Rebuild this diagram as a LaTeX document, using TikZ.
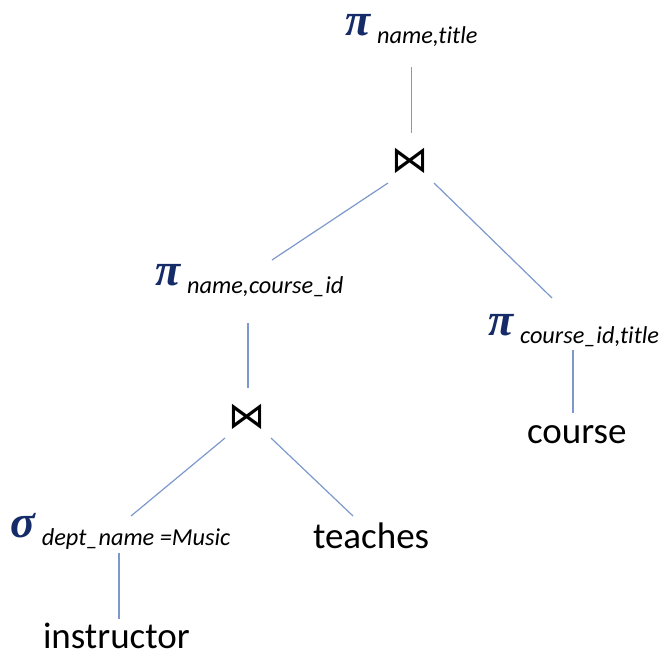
\documentclass[tikz,border=0pt]{standalone}
\usepackage{fontspec}
\setmainfont{Carlito}[Ligatures=NoCommon]
\newfontfamily\greekfont{Liberation Serif}
\newfontfamily\symfont{DejaVu Sans}
\usetikzlibrary{calc}
\definecolor{opblue}{RGB}{22,44,104}
\definecolor{edgeblue}{RGB}{124,152,204}
% relational operator: large Greek letter followed by a lowered italic subscript
\newcommand{\relop}[2]{{\color{opblue}\greekfont\bfseries\itshape\fontsize{46}{46}\selectfont #1}\hspace{7pt}\raisebox{-8pt}{\fontsize{24.3}{25}\selectfont\itshape #2}}

\begin{document}
\begin{tikzpicture}[x=1pt,y=-1pt,
  lbl/.style={inner sep=0pt, outer sep=0pt, anchor=base west},
  relname/.style={lbl, text depth=0pt, font=\fontsize{37}{40}\selectfont},
  joinop/.style={inner sep=0pt, outer sep=0pt, font=\symfont\fontsize{37}{37}\selectfont},
  edge/.style={draw=edgeblue, line width=1.2pt}]
\useasboundingbox (0,0) rectangle (669,653);

% operators
\node[lbl] (p1) at (345,35) {\relop{π}{name,title}};
\node[joinop] (j1) at (409.5,160.5) {⋈};
\node[lbl] (p2) at (155,285) {\relop{π}{name,course\_id}};
\node[lbl] (p3) at (488,335) {\relop{π}{course\_id,title}};
\node[joinop] (j2) at (247,416.5) {⋈};
\node[lbl] (s1) at (10,537) {\relop{σ}{dept\_name =Music}};

% relations
\node[relname] (teaches) at (313,548) {teaches};
\node[relname] (course) at (527,443) {course};
\node[relname] (instructor) at (43,648) {instructor};

% tree edges
\draw[edge] ($(p1.base west)+(66.7,32)$) -- ($(j1)+(2.2,-27.5)$);
\draw[edge] ($(j1)+(-21.5,22.5)$) -- ($(p2.base west)+(117,-25)$);
\draw[edge] ($(j1)+(24.5,22.5)$) -- ($(p3.base west)+(64,-37)$);
\draw[edge] ($(p2.base west)+(93,38)$) -- ($(j2)+(1,-28.5)$);
\draw[edge] ($(p3.base west)+(85,15)$) -- ($(course.base west)+(46,-30)$);
\draw[edge] ($(j2)+(-22,21.5)$) -- ($(s1.base west)+(121,-21)$);
\draw[edge] ($(j2)+(24,21.5)$) -- ($(teaches.base west)+(40,-32)$);
\draw[edge] ($(s1.base west)+(109,16)$) -- ($(instructor.base west)+(76,-29)$);
\end{tikzpicture}
\end{document}
